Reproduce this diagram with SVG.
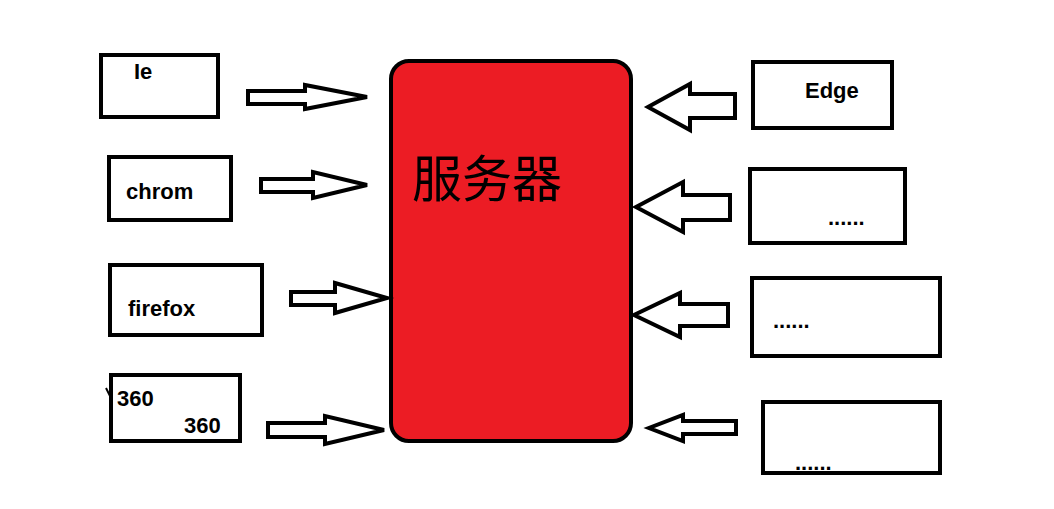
<svg xmlns="http://www.w3.org/2000/svg" width="1054" height="509" viewBox="0 0 1054 509">
<style>
.b{fill:#fff;stroke:#000;stroke-width:4}
.a{fill:#fff;stroke:#000;stroke-width:4;stroke-linejoin:miter}
.t{font-family:"Liberation Sans",Arial,sans-serif;font-weight:bold;font-size:22px;fill:#000}
.c{font-family:"Noto Sans CJK SC",sans-serif;font-size:50px;fill:#000}
</style>
<rect width="1054" height="509" fill="#fff"/>
<g id="server"><rect x="391" y="61" width="240" height="380" rx="18" fill="#ec1c24" stroke="#000" stroke-width="4"/><text class="c" x="412" y="197">服务器</text></g>
<g id="ie"><rect class="b" x="101" y="55" width="117" height="62"/><text class="t" x="134" y="79">Ie</text></g>
<g id="chrom"><rect class="b" x="109" y="157" width="122" height="63"/><text class="t" x="126" y="199">chrom</text></g>
<g id="firefox"><rect class="b" x="110" y="265" width="152" height="70"/><text class="t" x="128" y="316">firefox</text></g>
<g id="n360"><rect class="b" x="111" y="375" width="129" height="66"/><text class="t" x="117" y="406">360</text><text class="t" x="184" y="433">360</text><path d="M106 388 L112 400" stroke="#000" stroke-width="2"/></g>
<g id="edge"><rect class="b" x="753" y="62" width="139" height="66"/><text class="t" x="805" y="98">Edge</text></g>
<g id="r2"><rect class="b" x="750" y="169" width="155" height="74"/><text class="t" x="828" y="225">......</text></g>
<g id="r3"><rect class="b" x="752" y="278" width="188" height="78"/><text class="t" x="773" y="328">......</text></g>
<g id="r4"><rect class="b" x="763" y="402" width="177" height="71"/><text class="t" x="795" y="470">......</text></g>
<g id="connectors">
<polygon class="a" points="248,91 305,91 305,85 367,97 305,109 305,104 248,104"/>
<polygon class="a" points="261,179 313,179 313,172 367,185 313,198 313,192 261,192"/>
<polygon class="a" points="291,292 335,292 335,283 387,298 335,313 335,305 291,305"/>
<polygon class="a" points="268,423 325,423 325,416 384,430 325,444 325,437 268,437"/>
<polygon class="a" points="735,94 690,94 690,84 648,107 690,130 690,118 735,118"/>
<polygon class="a" points="730,195 683,195 683,182 636,207 683,232 683,220 730,220"/>
<polygon class="a" points="728,304 680,304 680,293 634,315 680,337 680,326 728,326"/>
<polygon class="a" points="736,421 683,421 683,415 649,428 683,441 683,434 736,434"/>
</g>
</svg>
